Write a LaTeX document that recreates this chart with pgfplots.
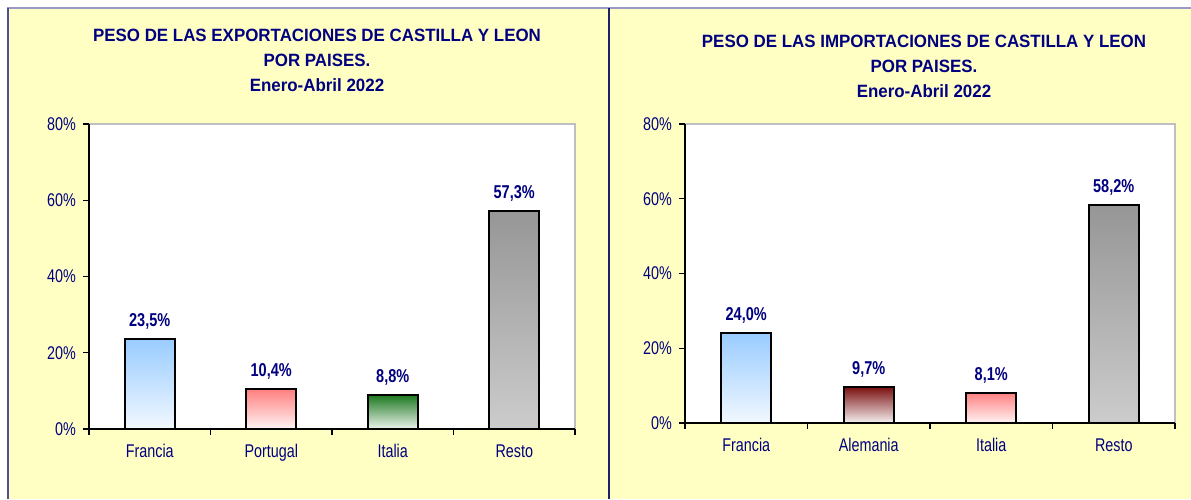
\documentclass[border=0pt]{standalone}
\usepackage{fontspec}
\setmainfont{Liberation Sans}
\newfontfamily\narrowfont[FakeStretch=0.78]{Liberation Sans}
\newfontfamily\titlefont[FakeStretch=0.95]{Liberation Sans}
\usepackage{pgfplots}
\pgfplotsset{compat=1.18}
\definecolor{navy}{HTML}{000080}
\definecolor{panelbg}{HTML}{FFFFC4}
\definecolor{frameL}{HTML}{505090}
\definecolor{frameT}{HTML}{9A9AC8}
\definecolor{divider}{HTML}{20206A}
\definecolor{blueT}{HTML}{99CCFF}
\definecolor{blueB}{HTML}{F2F8FF}
\definecolor{pinkT}{HTML}{FF8080}
\definecolor{pinkB}{HTML}{FFF4F4}
\definecolor{greenT}{HTML}{1F7A22}
\definecolor{greenB}{HTML}{EEF4EE}
\definecolor{greyT}{HTML}{969696}
\definecolor{greyB}{HTML}{CCCCCC}
\definecolor{redT}{HTML}{7A0E0E}
\definecolor{redB}{HTML}{F6F2F2}

\pgfplotstableread{
x y
0 23.5
1 10.4
2 8.8
3 57.3
}\exports
\pgfplotstableread{
x y
0 24.0
1 9.7
2 8.1
3 58.2
}\imports

\pgfplotsset{
  panel/.style={
    scale only axis, anchor=south west, clip=false,
    ymin=0, ymax=80, ytick={0,20,40,60,80},
    yticklabel={\pgfmathprintnumber{\tick}\%},
    xmin=-0.5, xmax=3.5,
    xtick={-0.5,0.5,1.5,2.5,3.5}, xticklabels={,,,,},
    extra x ticks={0,1,2,3},
    extra x tick style={major tick length=0pt, grid=none},
    axis x line*=bottom, axis y line*=left,
    axis line style={black, line width=0.75pt, -},
    axis background/.style={fill=white, draw=black!25, line width=1pt},
    tick align=outside, major tick length=3pt,
    tick style={black, line width=0.6pt},
    ticklabel style={font=\narrowfont\fontsize{9.2}{11}\selectfont, text=navy},
    xticklabel style={yshift=-4.2pt},
    /pgf/number format/assume math mode=true,
    bar width=0.41,
    nodes near coords={\pgfmathprintnumber[fixed,fixed zerofill,precision=1,use comma]{\pgfplotspointmeta}\%},
    every node near coord/.append style={font=\narrowfont\bfseries\fontsize{9.3}{11}\selectfont, text=navy, yshift=1pt},
  },
  mybar/.style 2 args={ybar, bar shift=0pt, draw=black, line width=1pt, top color=#1, bottom color=#2},
}

\begin{document}
\begin{tikzpicture}
\path[use as bounding box] (0,0) rectangle (595.5pt,249.5pt);
\fill[white] (0,0) rectangle (595.5pt,249.5pt);
\fill[panelbg] (3.5pt,0) rectangle (595.5pt,245.5pt);
\draw[frameT, line width=1pt] (3.5pt,245.5pt) -- (595.5pt,245.5pt);
\draw[frameL, line width=1pt] (3.75pt,0) -- (3.75pt,245.5pt);
\draw[divider, line width=1pt] (304.5pt,0) -- (304.5pt,245.5pt);

\begin{axis}[panel, at={(44.5pt,35pt)}, width=243pt, height=152.5pt,
  extra x tick labels={Francia,Portugal,Italia,Resto}]
  \addplot[mybar={blueT}{blueB}] table[x=x,y=y, restrict expr to domain={\coordindex}{0:0}] {\exports};
  \addplot[mybar={pinkT}{pinkB}] table[x=x,y=y, restrict expr to domain={\coordindex}{1:1}] {\exports};
  \addplot[mybar={greenT}{greenB}] table[x=x,y=y, restrict expr to domain={\coordindex}{2:2}] {\exports};
  \addplot[mybar={greyT}{greyB}] table[x=x,y=y, restrict expr to domain={\coordindex}{3:3}] {\exports};
\end{axis}

\begin{axis}[panel, at={(342.5pt,38pt)}, width=245pt, height=149.5pt,
  extra x tick labels={Francia,Alemania,Italia,Resto}]
  \addplot[mybar={blueT}{blueB}] table[x=x,y=y, restrict expr to domain={\coordindex}{0:0}] {\imports};
  \addplot[mybar={redT}{redB}] table[x=x,y=y, restrict expr to domain={\coordindex}{1:1}] {\imports};
  \addplot[mybar={pinkT}{pinkB}] table[x=x,y=y, restrict expr to domain={\coordindex}{2:2}] {\imports};
  \addplot[mybar={greyT}{greyB}] table[x=x,y=y, restrict expr to domain={\coordindex}{3:3}] {\imports};
\end{axis}

\begin{scope}[every node/.style={anchor=base, text=navy, inner sep=0pt, font=\titlefont\bfseries\fontsize{8.9}{10}\selectfont}]
\node at (158.5pt,228.65pt) {PESO DE LAS EXPORTACIONES DE CASTILLA Y LEON};
\node at (158.5pt,216.15pt) {POR PAISES.};
\node at (158.5pt,203.65pt) {Enero-Abril 2022};
\node at (462pt,225.6pt) {PESO DE LAS IMPORTACIONES DE CASTILLA Y LEON};
\node at (462pt,213.1pt) {POR PAISES.};
\node at (462pt,200.6pt) {Enero-Abril 2022};
\end{scope}
\end{tikzpicture}
\end{document}
